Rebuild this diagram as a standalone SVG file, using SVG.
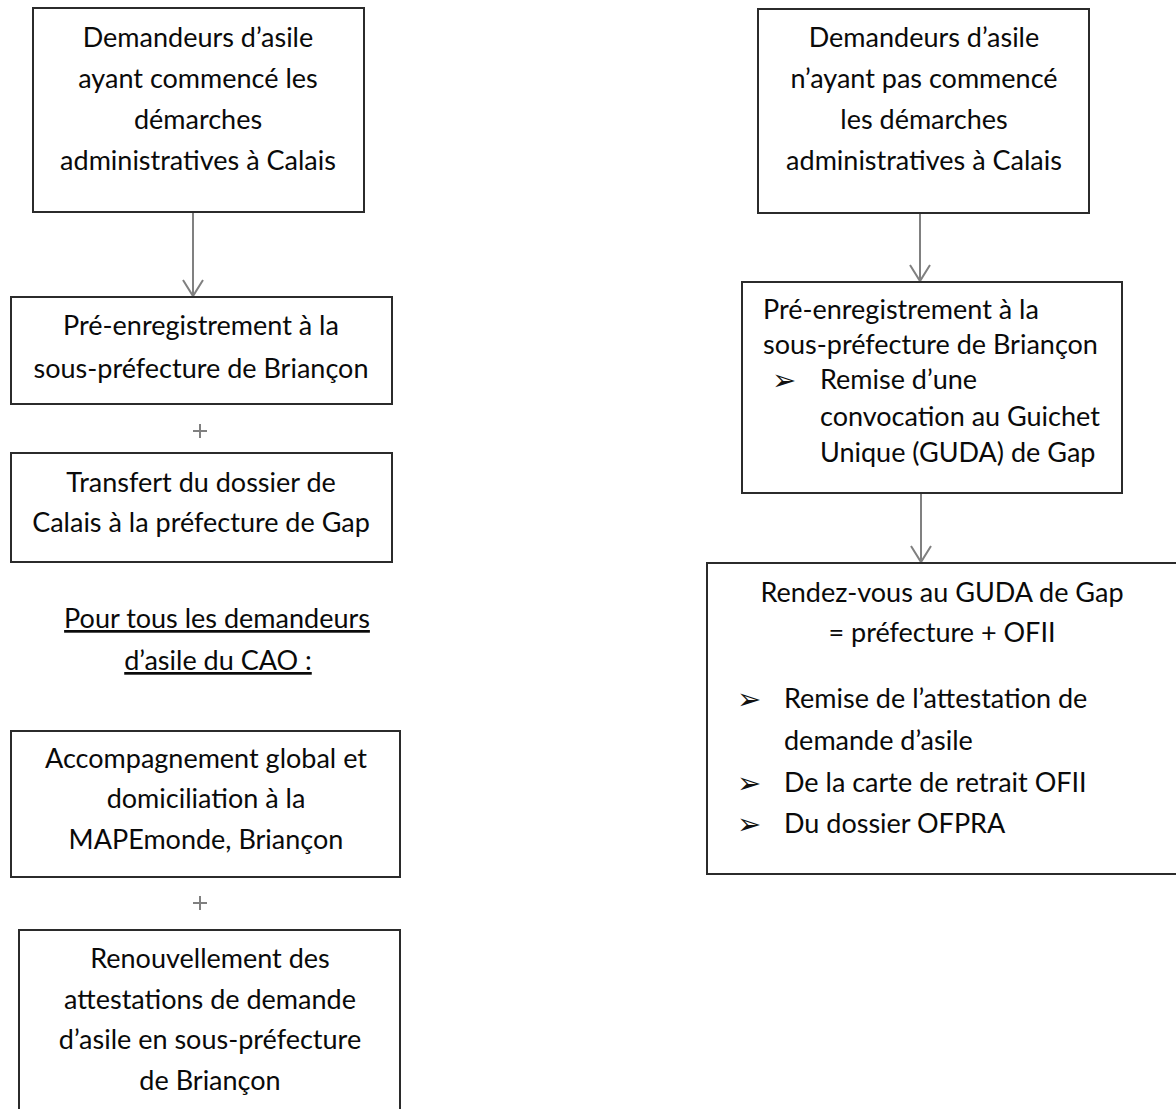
<svg xmlns="http://www.w3.org/2000/svg" width="1176" height="1109" viewBox="0 0 1176 1109">
<style>
.box{fill:#fff;stroke:#2b2b2b;stroke-width:2}
.t{font-family:Lato,"Liberation Sans",sans-serif;font-size:27px;fill:#0a0a0a}
.c{text-anchor:middle}
.b{font-family:"DejaVu Sans",sans-serif;font-size:29px;fill:#111}
.conn{stroke:#808080;stroke-width:2;fill:none}
.u{text-decoration:underline}
</style>
<rect width="1176" height="1109" fill="#fff"/>
<g id="connectors">
<path class="conn" d="M193 212V296M183 280L193 296L203 280"/>
<path class="conn" d="M920 213V281M910 265L920 281L930 265"/>
<path class="conn" d="M921 493V562M911 546L921 562L931 546"/>
<path class="conn" d="M193 431H207M200 424V438"/>
<path class="conn" d="M193 903H207M200 896V910"/>
</g>
<g id="n1">
<rect class="box" x="33" y="8" width="331" height="204"/>
<text class="t c" x="198" y="47">Demandeurs d’asile</text>
<text class="t c" x="198" y="88">ayant commencé les</text>
<text class="t c" x="198" y="129">démarches</text>
<text class="t c" x="198" y="170">administratives à Calais</text>
</g>
<g id="n2">
<rect class="box" x="11" y="297" width="381" height="107"/>
<text class="t c" x="201" y="335">Pré-enregistrement à la</text>
<text class="t c" x="201" y="378">sous-préfecture de Briançon</text>
</g>
<g id="n3">
<rect class="box" x="11" y="453" width="381" height="109"/>
<text class="t c" x="201" y="492">Transfert du dossier de</text>
<text class="t c" x="201" y="532">Calais à la préfecture de Gap</text>
</g>
<g id="label">
<text class="t c u" x="217" y="628">Pour tous les demandeurs</text>
<text class="t c u" x="218" y="670">d’asile du CAO :</text>
</g>
<g id="n4">
<rect class="box" x="11" y="731" width="389" height="146"/>
<text class="t c" x="206" y="768">Accompagnement global et</text>
<text class="t c" x="206" y="808">domiciliation à la</text>
<text class="t c" x="206" y="849">MAPEmonde, Briançon</text>
</g>
<g id="n5">
<rect class="box" x="19" y="930" width="381" height="190"/>
<text class="t c" x="210" y="968">Renouvellement des</text>
<text class="t c" x="210" y="1009">attestations de demande</text>
<text class="t c" x="210" y="1049">d’asile en sous-préfecture</text>
<text class="t c" x="210" y="1090">de Briançon</text>
</g>
<g id="n6">
<rect class="box" x="758" y="9" width="331" height="204"/>
<text class="t c" x="924" y="47">Demandeurs d’asile</text>
<text class="t c" x="924" y="88">n’ayant pas commencé</text>
<text class="t c" x="924" y="129">les démarches</text>
<text class="t c" x="924" y="170">administratives à Calais</text>
</g>
<g id="n7">
<rect class="box" x="742" y="282" width="380" height="211"/>
<text class="t" x="763" y="319">Pré-enregistrement à la</text>
<text class="t" x="763" y="354">sous-préfecture de Briançon</text>
<text class="b" x="772" y="390">➢</text>
<text class="t" x="820" y="389">Remise d’une</text>
<text class="t" x="820" y="426">convocation au Guichet</text>
<text class="t" x="820" y="462">Unique (GUDA) de Gap</text>
</g>
<g id="n8">
<rect class="box" x="707" y="563" width="480" height="311"/>
<text class="t c" x="942" y="602">Rendez-vous au GUDA de Gap</text>
<text class="t c" x="942" y="642">= préfecture + OFII</text>
<text class="b" x="737" y="709">➢</text>
<text class="t" x="784" y="708">Remise de l’attestation de</text>
<text class="t" x="784" y="750">demande d’asile</text>
<text class="b" x="737" y="793">➢</text>
<text class="t" x="784" y="792">De la carte de retrait OFII</text>
<text class="b" x="737" y="834">➢</text>
<text class="t" x="784" y="833">Du dossier OFPRA</text>
</g>
</svg>
